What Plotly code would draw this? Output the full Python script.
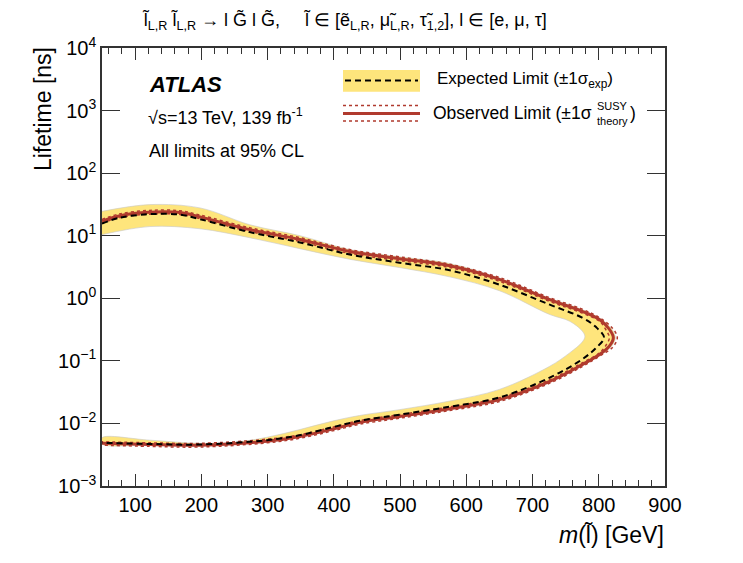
import plotly.graph_objects as go

# ---------------- data ----------------
obs_mass = [50, 77, 122, 168, 198, 273, 349, 424, 499, 575, 650, 726, 775, 801, 816, 822,
            816, 801, 775, 726, 650, 575, 499, 439, 398, 349, 299, 198, 122, 50]
obs_life = [17.0, 20.9, 23.7, 23.4, 20.0, 12.5, 8.7, 5.6, 4.3, 3.3, 2.0, 0.95, 0.62, 0.457, 0.32, 0.235,
            0.172, 0.126, 0.087, 0.047, 0.024, 0.0172, 0.0129, 0.0104, 0.0081, 0.0062, 0.0052, 0.0045, 0.0046, 0.0048]

obs_up_mass = [50, 77, 122, 168, 198, 273, 349, 424, 499, 575, 650, 726, 775, 801, 821, 828,
               821, 801, 775, 726, 650, 575, 499, 439, 398, 349, 299, 198, 122, 50]
obs_up_life = [18.2, 22.4, 25.4, 25.0, 21.4, 13.4, 9.3, 6.0, 4.6, 3.5, 2.15, 1.02, 0.67, 0.49, 0.33, 0.235,
               0.165, 0.118, 0.081, 0.044, 0.0224, 0.0161, 0.0121, 0.0097, 0.0076, 0.0058, 0.0049, 0.0042, 0.0043, 0.0045]

obs_dn_mass = [50, 77, 122, 168, 198, 273, 349, 424, 499, 575, 650, 726, 775, 801, 811, 816,
               811, 801, 775, 726, 650, 575, 499, 439, 398, 349, 299, 198, 122, 50]
obs_dn_life = [15.9, 19.5, 22.1, 21.9, 18.7, 11.7, 8.1, 5.2, 4.0, 3.1, 1.87, 0.89, 0.58, 0.43, 0.31, 0.235,
               0.178, 0.134, 0.093, 0.050, 0.0257, 0.0184, 0.0138, 0.0111, 0.0087, 0.0066, 0.0056, 0.0048, 0.0049, 0.0051]

exp_mass = [50, 77, 122, 168, 198, 273, 349, 424, 499, 575, 650, 726, 775, 795, 808,
            795, 775, 726, 650, 575, 499, 439, 398, 349, 299, 198, 122, 50]
exp_life = [15.6, 19.4, 22.1, 21.7, 18.4, 11.4, 7.8, 5.0, 3.7, 2.8, 1.65, 0.79, 0.49, 0.353, 0.235,
            0.158, 0.106, 0.054, 0.026, 0.0185, 0.0138, 0.0110, 0.0087, 0.0065, 0.0054, 0.0046, 0.0047, 0.0049]

band_out_mass = [50, 122, 198, 273, 349, 424, 499, 575, 650, 726, 775, 801, 819, 825,
                 819, 801, 775, 726, 650, 575, 499, 439, 398, 349, 299, 198, 122, 50]
band_out_life = [24.5, 31.4, 27.8, 15.0, 10.0, 6.0, 4.6, 3.6, 2.1, 1.0, 0.66, 0.48, 0.33, 0.235,
                 0.17, 0.12, 0.084, 0.046, 0.023, 0.0166, 0.0125, 0.0100, 0.0079, 0.0061, 0.0051, 0.0044, 0.0045, 0.0047]

band_in_mass = [50, 122, 198, 273, 349, 424, 499, 575, 650, 726, 756, 775, 779,
                775, 756, 726, 650, 575, 499, 439, 398, 349, 299, 250, 198, 122, 50]
band_in_life = [10.4, 14.0, 12.9, 9.3, 6.2, 4.2, 3.1, 2.2, 1.32, 0.55, 0.43, 0.30, 0.245,
                0.20, 0.134, 0.082, 0.035, 0.0228, 0.0166, 0.0134, 0.0109, 0.008, 0.006, 0.005, 0.0048, 0.0054, 0.0059]

ytick_vals = [1e-3, 1e-2, 1e-1, 1e0, 1e1, 1e2, 1e3, 1e4]
ytick_text = ["10<sup>\u22123</sup>", "10<sup>\u22122</sup>", "10<sup>\u22121</sup>", "10<sup>0</sup>",
              "10<sup>1</sup>", "10<sup>2</sup>", "10<sup>3</sup>", "10<sup>4</sup>"]
xtick_vals = [100, 200, 300, 400, 500, 600, 700, 800, 900]

# ---------------- style ----------------
FONT = "Liberation Sans, Arial, sans-serif"
YELLOW = "#fee57c"
RED = "#b03a2e"

fig = go.Figure()

fig.add_trace(go.Scatter(
    x=band_out_mass + band_in_mass[::-1], y=band_out_life + band_in_life[::-1],
    mode="lines", fill="toself", fillcolor=YELLOW,
    line=dict(color="rgba(200,200,200,0.6)", width=1, shape="spline"),
    hoverinfo="skip", showlegend=False))

for xm, yl in [(obs_up_mass, obs_up_life), (obs_dn_mass, obs_dn_life)]:
    fig.add_trace(go.Scatter(x=xm, y=yl, mode="lines",
                             line=dict(color=RED, width=1.5, dash="dot", shape="spline"),
                             showlegend=False))

fig.add_trace(go.Scatter(x=obs_mass, y=obs_life, mode="lines",
                         line=dict(color=RED, width=3, shape="spline"), showlegend=False))
fig.add_trace(go.Scatter(x=exp_mass, y=exp_life, mode="lines",
                         line=dict(color="black", width=2, dash="6px,4px", shape="spline"),
                         showlegend=False))

axis_common = dict(showline=True, linecolor="#333333", linewidth=1.5, mirror="ticks",
                   ticks="inside", tickcolor="#333333", showgrid=False, zeroline=False,
                   tickfont=dict(family=FONT, size=20, color="black"))

fig.update_xaxes(range=[50, 900], tickvals=xtick_vals, ticklen=12,
                 minor=dict(ticks="inside", ticklen=6, dtick=20, tick0=0, tickcolor="#333333"),
                 **axis_common)
fig.update_yaxes(type="log", range=[-3, 4], tickvals=ytick_vals, ticktext=ytick_text,
                 ticklen=18, **axis_common)

# plot area px (in screenshot): x 102-665, y 48-486
def px(xp):
    return (xp - 102) / 563.0

def py(yp):
    return (486 - yp) / 438.0

ann = []
ann.append(dict(x=px(344), y=py(21), xref="paper", yref="paper", showarrow=False,
                xanchor="center", yanchor="middle",
                text="l\u0303<sub>L,R</sub> l\u0303<sub>L,R</sub> \u2192 l G\u0303 l G\u0303,     "
                     "l\u0303 \u2208 [e\u0303<sub>L,R</sub>, \u03bc\u0303<sub>L,R</sub>, \u03c4\u0303<sub>1,2</sub>], "
                     "l \u2208 [e, \u03bc, \u03c4]",
                font=dict(family=FONT, size=18, color="black")))
ann.append(dict(x=px(147), y=py(85), xref="paper", yref="paper", showarrow=False,
                xanchor="left", yanchor="middle", text="<b><i>ATLAS</i></b>",
                font=dict(family=FONT, size=22, color="black")))
ann.append(dict(x=px(146), y=py(117), xref="paper", yref="paper", showarrow=False,
                xanchor="left", yanchor="middle", text="\u221as=13 TeV, 139 fb<sup>-1</sup>",
                font=dict(family=FONT, size=18, color="black")))
ann.append(dict(x=px(147), y=py(151), xref="paper", yref="paper", showarrow=False,
                xanchor="left", yanchor="middle", text="All limits at 95% CL",
                font=dict(family=FONT, size=18, color="black")))
ann.append(dict(x=px(435), y=py(80), xref="paper", yref="paper", showarrow=False,
                xanchor="left", yanchor="middle", text="Expected Limit (\u00b11\u03c3<sub>exp</sub>)",
                font=dict(family=FONT, size=17, color="black")))
ann.append(dict(x=px(594), y=py(113), xref="paper", yref="paper", showarrow=False,
                xanchor="right", yanchor="middle", text="Observed Limit (\u00b11\u03c3",
                font=dict(family=FONT, size=17.5, color="black")))
ann.append(dict(x=px(595), y=py(106), xref="paper", yref="paper", showarrow=False,
                xanchor="left", yanchor="middle", text="SUSY",
                font=dict(family=FONT, size=11, color="black")))
ann.append(dict(x=px(595), y=py(121), xref="paper", yref="paper", showarrow=False,
                xanchor="left", yanchor="middle", text="theory",
                font=dict(family=FONT, size=11, color="black")))
ann.append(dict(x=px(628), y=py(113), xref="paper", yref="paper", showarrow=False,
                xanchor="left", yanchor="middle", text=")",
                font=dict(family=FONT, size=17.5, color="black")))
ann.append(dict(x=px(43), y=py(45), xref="paper", yref="paper", showarrow=False,
                xanchor="center", yanchor="top", textangle=-90, text="Lifetime [ns]",
                font=dict(family=FONT, size=23, color="black")))
ann.append(dict(x=px(666), y=py(535), xref="paper", yref="paper", showarrow=False,
                xanchor="right", yanchor="middle", text="<i>m</i>(l\u0303) [GeV]",
                font=dict(family=FONT, size=23, color="black")))

shapes = []
shapes.append(dict(type="rect", xref="paper", yref="paper", x0=px(343), x1=px(420),
                   y0=py(91.7), y1=py(70), fillcolor=YELLOW, line=dict(width=0)))
shapes.append(dict(type="line", xref="paper", yref="paper", x0=px(345), x1=px(418),
                   y0=py(80.5), y1=py(80.5), line=dict(color="black", width=2, dash="6px,4px")))
shapes.append(dict(type="line", xref="paper", yref="paper", x0=px(343), x1=px(420),
                   y0=py(113.5), y1=py(113.5), line=dict(color=RED, width=3)))
for yy in (105.5, 121):
    shapes.append(dict(type="line", xref="paper", yref="paper", x0=px(343), x1=px(420),
                       y0=py(yy), y1=py(yy), line=dict(color=RED, width=1.5, dash="dot")))

# page body adds ~8px offset; compensate in margins so the plot area lands at the reference spot
fig.update_layout(width=743, height=563, margin=dict(l=94, r=86, t=40, b=85),
                  plot_bgcolor="white", paper_bgcolor="white",
                  annotations=ann, shapes=shapes, showlegend=False,
                  font=dict(family=FONT, color="black"))

fig.write_html("out.html")
